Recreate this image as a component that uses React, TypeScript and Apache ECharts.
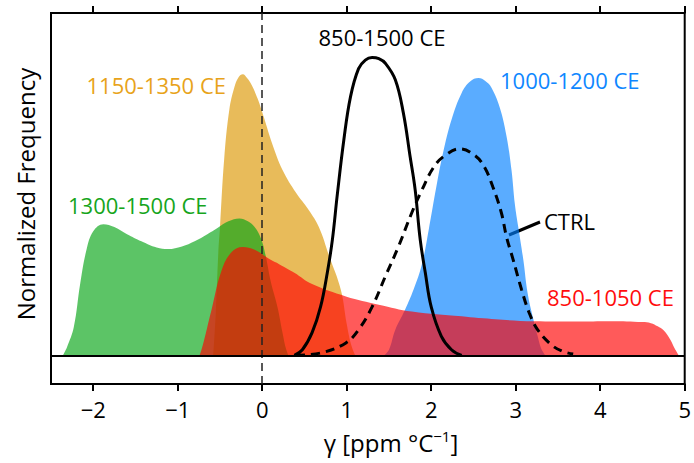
import React, { useEffect, useRef } from "react";
import * as echarts from "echarts";

// Tick positions of the γ axis
const xTicks = [-2, -1, 0, 1, 2, 3, 4, 5];

// Kernel density estimates of γ, [γ, normalized frequency]
const dens850to1050: [number, number][] = [
  [-0.74, 0], [-0.7, 0.04], [-0.65, 0.1], [-0.6, 0.16], [-0.49, 0.29], [-0.37, 0.36],
  [-0.23, 0.38], [-0.09, 0.37], [0.1, 0.335], [0.2, 0.32], [0.38, 0.29], [0.59, 0.25],
  [0.99, 0.207], [1.38, 0.178], [1.77, 0.154], [2.36, 0.137], [2.56, 0.131], [3.22, 0.12],
  [3.7, 0.119], [4.13, 0.12], [4.5, 0.117], [4.6, 0.113], [4.68, 0.102], [4.75, 0.088],
  [4.83, 0.055], [4.88, 0.025], [4.93, 0],
];

const dens1000to1200: [number, number][] = [
  [1.44, 0], [1.5, 0.02], [1.575, 0.09], [1.69, 0.16], [1.79, 0.23], [1.89, 0.32],
  [1.97, 0.44], [2.06, 0.59], [2.14, 0.71], [2.24, 0.826], [2.36, 0.92], [2.46, 0.96],
  [2.56, 0.972], [2.64, 0.962], [2.71, 0.94], [2.81, 0.87], [2.89, 0.77], [2.95, 0.65],
  [2.99, 0.53], [3.03, 0.45], [3.09, 0.335], [3.14, 0.22], [3.2, 0.137], [3.26, 0.067],
  [3.3, 0.025], [3.35, 0],
];

const dens1150to1350: [number, number][] = [
  [-0.58, 0], [-0.55, 0.15], [-0.52, 0.36], [-0.5, 0.45], [-0.45, 0.69], [-0.39, 0.86],
  [-0.33, 0.94], [-0.28, 0.975], [-0.23, 0.985], [-0.18, 0.972], [-0.13, 0.95],
  [-0.055, 0.9], [0.024, 0.83], [0.12, 0.74], [0.24, 0.65], [0.4, 0.57], [0.55, 0.51],
  [0.67, 0.45], [0.79, 0.35], [0.93, 0.23], [1.0, 0.11], [1.05, 0.04], [1.1, 0],
];

const dens1300to1500: [number, number][] = [
  [-2.36, 0], [-2.31, 0.03], [-2.23, 0.1], [-2.155, 0.25], [-2.08, 0.37], [-2.0, 0.435],
  [-1.88, 0.46], [-1.75, 0.45], [-1.6, 0.425], [-1.43, 0.4], [-1.25, 0.378],
  [-1.115, 0.373], [-0.95, 0.382], [-0.8, 0.4], [-0.65, 0.425], [-0.53, 0.447],
  [-0.4, 0.47], [-0.27, 0.48], [-0.17, 0.47], [-0.09, 0.45], [-0.015, 0.41], [0.04, 0.35],
  [0.1, 0.26], [0.18, 0.17], [0.24, 0.08], [0.28, 0.025], [0.31, 0],
];

const dens850to1500: [number, number][] = [
  [0.38, 0], [0.475, 0.02], [0.59, 0.08], [0.69, 0.17], [0.77, 0.29], [0.83, 0.405],
  [0.887, 0.56], [0.966, 0.756], [1.045, 0.907], [1.14, 1.005], [1.22, 1.035],
  [1.3, 1.044], [1.38, 1.04], [1.457, 1.024], [1.575, 0.966], [1.67, 0.85], [1.75, 0.697],
  [1.81, 0.58], [1.87, 0.405], [1.93, 0.29], [2.0, 0.17], [2.12, 0.067], [2.24, 0.02],
  [2.36, 0],
];

const densCtrl: [number, number][] = [
  [0.4, 0], [0.71, 0.01], [0.99, 0.044], [1.14, 0.09], [1.3, 0.17], [1.457, 0.277],
  [1.61, 0.38], [1.77, 0.5], [1.89, 0.58], [2.03, 0.66], [2.16, 0.7], [2.34, 0.724],
  [2.52, 0.7], [2.63, 0.66], [2.73, 0.59], [2.83, 0.5], [2.89, 0.417], [2.97, 0.335],
  [3.07, 0.23], [3.16, 0.149], [3.26, 0.09], [3.42, 0.038], [3.55, 0.015], [3.68, 0.005],
];

const FONT = "'Open Sans', 'Noto Sans', sans-serif";
const SMOOTH = 0.4;

const areaSeries = (name: string, data: [number, number][], color: string) => ({
  name,
  type: "line",
  data,
  smooth: SMOOTH,
  symbol: "none",
  lineStyle: { width: 0 },
  areaStyle: { color, opacity: 0.65, origin: 0 },
  silent: true,
});

const fmtTick = (v: number) => (v < 0 ? "\u2212" + Math.abs(v) : String(v));

const label = (text: string, x: number, y: number, fill: string, align: string) => ({
  type: "text",
  x,
  y,
  style: {
    text,
    fill,
    font: `22px ${FONT}`,
    textAlign: align,
    textVerticalAlign: "middle",
  },
});

export default function App() {
  const ref = useRef<HTMLDivElement>(null);

  useEffect(() => {
    if (!ref.current) return;
    const chart = echarts.init(ref.current, null, { renderer: "svg" });

    const xAxisBase = {
      type: "value",
      min: -2.5,
      max: 5,
      splitLine: { show: false },
      axisLine: { show: true, onZero: false, lineStyle: { color: "#000", width: 2 } },
      axisTick: {
        show: true,
        customValues: xTicks,
        length: 7,
        inside: false,
        lineStyle: { color: "#000", width: 2 },
      },
    };

    chart.setOption({
      animation: false,
      backgroundColor: "#fff",
      grid: {
        left: 51,
        right: 7,
        top: 13,
        bottom: 79,
        show: true,
        borderColor: "#000",
        borderWidth: 2,
        backgroundColor: "transparent",
      },
      xAxis: [
        {
          ...xAxisBase,
          position: "bottom",
          axisLabel: {
            customValues: xTicks,
            formatter: fmtTick,
            fontSize: 22,
            fontFamily: FONT,
            color: "#000",
            margin: 14,
          },
        },
        {
          ...xAxisBase,
          position: "top",
          axisLabel: { show: false },
        },
      ],
      yAxis: {
        type: "value",
        min: -0.1,
        max: 1.2,
        splitLine: { show: false },
        axisLine: { show: true, onZero: false, lineStyle: { color: "#000", width: 2 } },
        axisTick: { show: false },
        axisLabel: { show: false },
      },
      series: [
        areaSeries("1150-1350 CE", dens1150to1350, "rgb(220,151,2)"),
        areaSeries("1300-1500 CE", dens1300to1500, "rgb(5,165,20)"),
        areaSeries("1000-1200 CE", dens1000to1200, "rgb(2,127,255)"),
        areaSeries("850-1050 CE", dens850to1050, "rgb(255,2,2)"),
        {
          name: "850-1500 CE",
          type: "line",
          data: dens850to1500,
          smooth: SMOOTH,
          symbol: "none",
          lineStyle: { color: "#000", width: 3 },
          silent: true,
          markLine: {
            silent: true,
            symbol: "none",
            label: { show: false },
            data: [
              { xAxis: 0, lineStyle: { color: "#222", width: 1.5, type: [8, 5] } },
              { yAxis: 0, lineStyle: { color: "#000", width: 2, type: "solid" } },
            ],
          },
        },
        {
          name: "CTRL",
          type: "line",
          data: densCtrl,
          smooth: SMOOTH,
          symbol: "none",
          lineStyle: { color: "#000", width: 3, type: [9, 6] },
          silent: true,
        },
      ],
      graphic: [
        label("850-1500 CE", 382, 37, "#000", "center"),
        label("1150-1350 CE", 226, 85, "rgb(232,163,26)", "right"),
        label("1300-1500 CE", 68, 205, "rgb(22,165,28)", "left"),
        label("1000-1200 CE", 500, 80, "rgb(15,135,255)", "left"),
        label("CTRL", 544, 221, "#000", "left"),
        label("850-1050 CE", 547, 297, "rgb(255,13,13)", "left"),
        {
          type: "line",
          shape: { x1: 509, y1: 235, x2: 540, y2: 222 },
          style: { stroke: "#000", lineWidth: 3 },
        },
        {
          type: "text",
          x: 25,
          y: 194,
          rotation: Math.PI / 2,
          style: {
            text: "Normalized Frequency",
            fill: "#000",
            font: `24px ${FONT}`,
            textAlign: "center",
            textVerticalAlign: "middle",
          },
        },
        {
          type: "text",
          x: 391,
          y: 442,
          style: {
            text: "{a|\u03b3 [ppm \u00b0C}{s|\u22121}{a|]}",
            textAlign: "center",
            textVerticalAlign: "middle",
            rich: {
              a: { fontSize: 24, fontFamily: FONT, fill: "#000", lineHeight: 30 },
              s: { fontSize: 15, fontFamily: FONT, fill: "#000", padding: [0, 0, 12, 0] },
            },
          },
        },
      ],
    });

    return () => chart.dispose();
  }, []);

  return (
    <div
      ref={ref}
      style={{ position: "fixed", left: 0, top: 0, width: 694, height: 463 }}
    />
  );
}
